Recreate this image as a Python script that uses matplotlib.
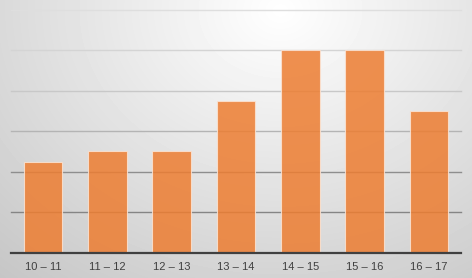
import numpy as np
import matplotlib.pyplot as plt

# Data
categories = ['10 – 11', '11 – 12', '12 – 13', '13 – 14', '14 – 15', '15 – 16', '16 – 17']
values = [2.25, 2.5, 2.5, 3.75, 5, 5, 3.5]
grid_levels = [1, 2, 3, 4, 5, 6]
grid_colors = ['#858585', '#8e8e8e', '#b4b4b4', '#c8c8c8', '#d4d4d4', '#dedede']


def plot():
    fig = plt.figure(figsize=(4.72, 2.78), dpi=100)

    # radial grey background, brightest near top centre-right
    bg = fig.add_axes([0, 0, 1, 1], zorder=-10)
    h, w = 278, 472
    yy, xx = np.mgrid[0:h, 0:w]
    r = np.sqrt(((xx - 280) / 400.0) ** 2 + ((yy - 10) / 330.0) ** 2)
    shade = np.clip(1.0 - 0.21 * r, 0, 1)
    bg.imshow(shade, cmap='gray', vmin=0, vmax=1, aspect='auto', interpolation='bilinear')
    bg.axis('off')

    ax = fig.add_axes([11 / 472, 25.5 / 278, 450 / 472, 242.5 / 278])
    ax.patch.set_alpha(0)
    x = np.arange(len(categories))
    ax.bar(x, values, width=0.6, color='#ED7D31', alpha=0.85,
           edgecolor='#fbe3d3', linewidth=0.8, zorder=3)

    ax.set_xlim(-0.5, len(categories) - 0.5)
    ax.set_ylim(0, 6)
    for yv, c in zip(grid_levels, grid_colors):
        ax.axhline(yv, color=c, lw=1.0, zorder=1, clip_on=False)
    ax.axhline(0, color='#404040', lw=1.6, zorder=4, clip_on=False)

    ax.set_xticks(x)
    ax.set_xticklabels(categories, fontsize=8, color='#404040', family='Liberation Sans')
    ax.tick_params(axis='x', length=0, pad=7)
    ax.tick_params(axis='y', left=False, labelleft=False)
    for s in ax.spines.values():
        s.set_visible(False)

    fig.savefig('out.png', dpi=100)


if __name__ == '__main__':
    plot()
